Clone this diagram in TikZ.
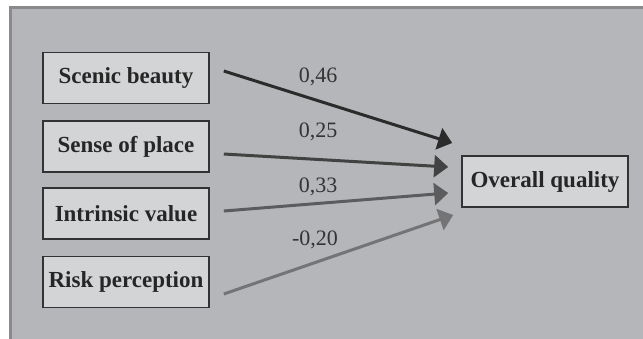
\documentclass[tikz,border=0pt]{standalone}
\usepackage{fontspec}
\setmainfont{Liberation Serif}
\usepackage{xcolor}
\usetikzlibrary{arrows.meta, positioning, calc}
\definecolor{PanelGray}{HTML}{B5B6B9}
\definecolor{PanelEdge}{HTML}{8A8A8C}
\definecolor{BoxFill}{HTML}{D3D4D6}
\definecolor{BoxEdge}{HTML}{333333}
\definecolor{PathOne}{HTML}{2B2B2B}
\definecolor{PathTwo}{HTML}{424242}
\definecolor{PathThree}{HTML}{5C5C5E}
\definecolor{PathFour}{HTML}{747476}
\tikzset{
    % Node styles
    factorbox/.style={
        rectangle,
        draw=BoxEdge,
        fill=BoxFill,
        line width=1.6pt,
        minimum width=166pt,
        minimum height=51pt,
        text centered,
        text=black!85,
        font=\fontsize{23}{27}\selectfont\bfseries
    },
    weightlabel/.style={
        inner sep=0pt,
        text=black!80,
        font=\fontsize{22}{26}\selectfont
    },
    % Arrow styles
    patharrow/.style={
        -{Triangle[length=14pt,width=22pt]},
        line width=3pt
    }
}
\begin{document}
\begin{tikzpicture}[x=1pt,y=-1pt]
    \useasboundingbox (0,0) rectangle (643,338);
    % Background panel
    \begin{scope}
        \clip (0,0) rectangle (643,338);
        \draw[fill=PanelGray,draw=PanelEdge,line width=2.5pt] (10.5,7.5) rectangle (660,360);
    \end{scope}

    % Factors
    \node[factorbox] (scenic) at (126,78) {Scenic beauty};
    \node[factorbox] (place) at (126,146.5) {Sense of place};
    \node[factorbox] (intrinsic) at (126,213.5) {Intrinsic value};
    \node[factorbox] (risk) at (126,282) {Risk perception};
    \node[factorbox] (overall) at (545,181.5) {Overall quality};

    % Path ends
    \coordinate (scenicout) at ($(scenic.east)+(14,-7)$);
    \coordinate (placeout) at ($(place.east)+(14,7.5)$);
    \coordinate (intrinsicout) at ($(intrinsic.east)+(14,-2.5)$);
    \coordinate (riskout) at ($(risk.east)+(14,12)$);
    \coordinate (scenicin) at ($(overall.west)+(-9,-38.5)$);
    \coordinate (placein) at ($(overall.west)+(-13,-14.5)$);
    \coordinate (intrinsicin) at ($(overall.west)+(-13,11.5)$);
    \coordinate (riskin) at ($(overall.west)+(-8,33.5)$);

    % Paths
    \draw[patharrow,PathOne] (scenicout) -- (scenicin);
    \draw[patharrow,PathTwo] (placeout) -- (placein);
    \draw[patharrow,PathThree] (intrinsicout) -- (intrinsicin);
    \draw[patharrow,PathFour] (riskout) -- (riskin);

    % Weights
    \node[weightlabel] (wscenic) at (318,77) {0,46};
    \node[weightlabel] (wplace) at (318,132) {0,25};
    \node[weightlabel] (wintrinsic) at (318,187) {0,33};
    \node[weightlabel] (wrisk) at (315,240) {-0,20};
\end{tikzpicture}
\end{document}
